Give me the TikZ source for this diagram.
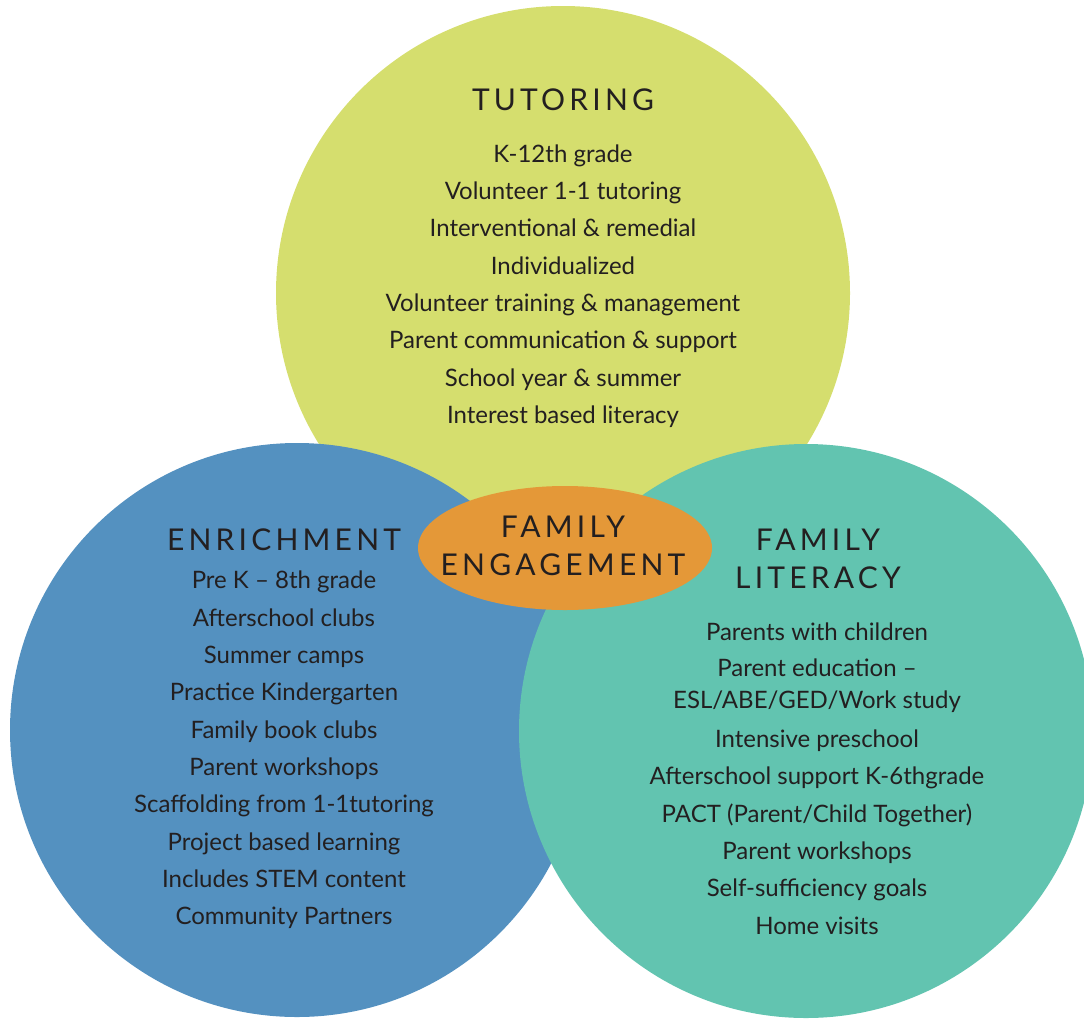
\documentclass[tikz,border=0pt]{standalone}
\usepackage{fontspec}
\setmainfont{Lato}
\usetikzlibrary{shapes.geometric}
\definecolor{tutorc}{RGB}{213,222,110}
\definecolor{enrichc}{RGB}{84,145,192}
\definecolor{litc}{RGB}{98,196,176}
\definecolor{engc}{RGB}{228,152,56}
\definecolor{txtc}{RGB}{35,31,32}
\tikzset{
  bigcirc/.style={circle, minimum size=574pt, inner sep=0pt},
  title/.style={text=txtc, align=center, font=\fontsize{30}{38}\selectfont\addfontfeatures{LetterSpace=14}},
  items/.style={text=txtc, align=center, font=\fontsize{24}{37.3}\selectfont},
}
\begin{document}
\begin{tikzpicture}[x=1pt,y=-1pt]
\useasboundingbox (0,0) rectangle (1084,1018);
\node[bigcirc, fill=tutorc] (tutc) at (563,293) {};
\node[bigcirc, fill=enrichc] (enrc) at (297,730) {};
\node[bigcirc, fill=litc] (litcirc) at (806,731) {};
\node[ellipse, fill=engc, minimum width=294pt, minimum height=124pt, inner sep=0pt] (engc) at (565,548) {};

\node[title] (tuttitle) at (563,100) {TUTORING};
\node[items] (tutitems) at (563,286) {K-12th grade\\Volunteer 1-1 tutoring\\Interventional \& remedial\\Individualized\\Volunteer training \& management\\Parent communication \& support\\School year \& summer\\Interest based literacy};

\node[title] (enrtitle) at (284,540) {ENRICHMENT};
\node[items] (enritems) at (284,750) {Pre K -- 8th grade\\Afterschool clubs\\Summer camps\\Practice Kindergarten\\Family book clubs\\Parent workshops\\Scaffolding from 1-1tutoring\\Project based learning\\Includes STEM content\\Community Partners};

\node[title] (engtitle) at (563,546) {FAMILY\\ENGAGEMENT};

\node[title] (littitle) at (818,559) {FAMILY\\LITERACY};
\node[items] (lititems1) at (817,632) {Parents with children};
\node[items, font=\fontsize{24}{32}\selectfont] (lititems2) at (817,686) {Parent education --\\ESL/ABE/GED/Work study};
\node[items] (lititems3) at (817,832) {Intensive preschool\\Afterschool support K-6thgrade\\PACT (Parent/Child Together)\\Parent workshops\\Self-sufficiency goals\\Home visits};
\end{tikzpicture}
\end{document}
